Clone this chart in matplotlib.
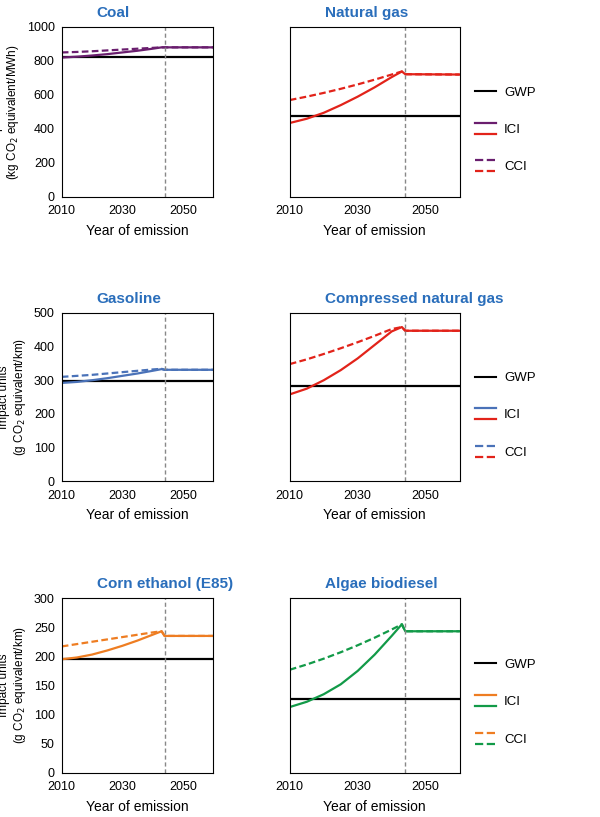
import matplotlib
matplotlib.use("Agg")
import matplotlib.pyplot as plt
from matplotlib.lines import Line2D
from matplotlib.legend_handler import HandlerBase

plt.rcParams['font.family'] = ['Liberation Sans', 'DejaVu Sans']

years = [2010, 2015, 2020, 2025, 2030, 2035, 2040, 2043, 2044, 2060]
cutoff = 2044

titles = ["Coal", "Natural gas", "Gasoline", "Compressed natural gas", "Corn ethanol (E85)", "Algae biodiesel"]
gwp = [825, 475, 297, 283, 196, 127]
ici = [
    [820, 825, 832, 840, 850, 860, 872, 880, 880, 880],
    [435, 460, 495, 540, 590, 645, 705, 738, 722, 720],
    [292, 295, 300, 306, 313, 320, 328, 333, 331, 331],
    [258, 275, 300, 330, 365, 405, 445, 458, 447, 447],
    [195, 198, 203, 210, 218, 227, 237, 243, 235, 235],
    [113, 122, 135, 152, 175, 203, 235, 255, 243, 243],
]
cci = [
    [850, 853, 857, 862, 867, 872, 877, 880, 880, 880],
    [570, 590, 612, 636, 662, 690, 720, 738, 722, 720],
    [310, 313, 316, 320, 324, 328, 332, 334, 331, 331],
    [348, 362, 378, 395, 413, 432, 452, 458, 447, 447],
    [217, 221, 225, 229, 233, 237, 241, 243, 235, 235],
    [177, 186, 196, 207, 219, 232, 246, 255, 243, 243],
]
colors = ["#6a1e6e", "#e2231a", "#4a72b8", "#e2231a", "#ee7d22", "#129a48"]
ylims = [(1000, 200), (1000, 200), (500, 100), (500, 100), (300, 50), (300, 50)]
ylabels = ["Impact units\n(kg CO$_2$ equivalent/MWh)", "Impact units\n(g CO$_2$ equivalent/km)", "Impact units\n(g CO$_2$ equivalent/km)"]
title_color = "#2a6ebb"

fig = plt.figure(figsize=(6, 8.17), dpi=100)
lefts = [0.103, 0.483]
w = 0.252, 0.283
bottoms = [0.759, 0.411, 0.054]
heights = [0.208, 0.206, 0.214]


class VStack(HandlerBase):
    def create_artists(self, legend, orig, xd, yd, width, height, fontsize, trans):
        arts = []
        for i, h in enumerate(orig):
            y = yd + height * (1.1 - 1.2 * i)
            l = Line2D([xd, xd + width], [y, y], color=h.get_color(), ls=h.get_linestyle(), lw=1.6, transform=trans)
            arts.append(l)
        return arts


for i in range(6):
    r, c = divmod(i, 2)
    ax = fig.add_axes([lefts[c], bottoms[r], w[c], heights[r]])
    top, step = ylims[i]
    ax.axhline(gwp[i], color="black", lw=1.6)
    ax.plot(years, cci[i], color=colors[i], ls="--", lw=1.6, dashes=(3, 1.5))
    ax.plot(years, ici[i], color=colors[i], lw=1.6)
    ax.axvline(cutoff, color="#888888", ls="--", lw=1, dashes=(3, 2))
    ax.set_xlim(2010, 2060)
    ax.set_ylim(0, top)
    ax.set_xticks([2010, 2030, 2050])
    ax.set_yticks(range(0, top + 1, step))
    ax.tick_params(labelsize=9, length=0)
    ax.tick_params(axis="x", pad=6)
    ax.tick_params(axis="y", pad=5)
    ax.set_xlabel("Year of emission", fontsize=10, labelpad=5)
    ax.set_title(titles[i], loc="left", color=title_color, fontweight="bold", fontsize=11,
                 x=0.23 if c == 0 else 0.21, pad=7)
    if c == 0:
        ax.set_ylabel(ylabels[r], fontsize=8.5, labelpad=4, linespacing=1.2)
    else:
        ax.set_yticklabels([])
        lc = colors[i - 1]
        rc = colors[i]
        hg = Line2D([], [], color="black")
        hi = (Line2D([], [], color=lc), Line2D([], [], color=rc))
        hc = (Line2D([], [], color=lc, ls="--"), Line2D([], [], color=rc, ls="--"))
        ax.legend([hg, hi, hc], ["GWP", "ICI", "CCI"], loc="upper left", bbox_to_anchor=(1.02, 0.72),
                  frameon=False, handler_map={tuple: VStack()}, fontsize=9.5, handlelength=1.6,
                  labelspacing=1.9, handletextpad=0.6)

fig.savefig("out.png", dpi=100)
